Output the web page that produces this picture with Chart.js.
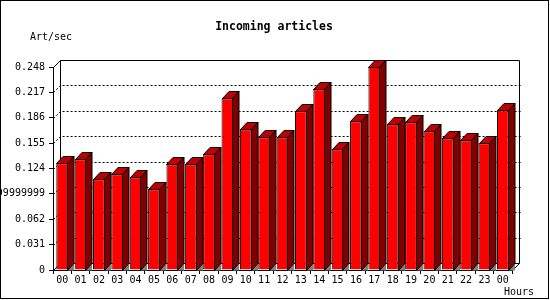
<!DOCTYPE html>
<html><head><meta charset="utf-8">
<script src="https://cdn.jsdelivr.net/npm/chart.js@4.4.1/dist/chart.umd.min.js"></script>
<style>html,body{margin:0;padding:0;background:#fff}#wrap{width:550px;height:300px;position:relative}</style>
</head><body><div id="wrap"><canvas id="c" width="550" height="300"></canvas></div>
<script>
const hours = ['00','01','02','03','04','05','06','07','08','09','10','11','12','13','14','15','16','17','18','19','20','21','22','23','00'];
const artPerSec = [0.1304,0.1352,0.1108,0.1169,0.1133,0.0986,0.1291,0.1291,0.1414,0.2098,0.1719,0.1621,0.1621,0.1939,0.2208,0.1475,0.1817,0.2480,0.1780,0.1805,0.1695,0.1609,0.1585,0.1548,0.1951];
const yTicks = [0,0.031,0.062,0.093,0.124,0.155,0.186,0.217,0.248];
const yTickLabels = ['0','0.031','0.062','0.09299999999999999','0.124','0.155','0.186','0.217','0.248'];
const titleText = 'Incoming articles';
const yUnit = 'Art/sec';
const xUnit = 'Hours';

const MONO = '"DejaVu Sans Mono", "Liberation Mono", monospace';
const D = 7;   // wall depth
const BD = 6.5; // bar depth

const threeD = {
  id: 'threeD',
  beforeDatasetsDraw(chart) {
    const {ctx, chartArea: a, scales: {y}} = chart;
    const L = Math.round(a.left), R = Math.round(a.right), T = Math.round(a.top), B = Math.round(a.bottom);
    ctx.save();
    ctx.strokeStyle = '#000'; ctx.lineWidth = 1;
    // dotted grid lines on the side and back wall
    ctx.setLineDash([2,2]);
    yTicks.forEach((v, i) => {
      if (i === 0 || i === yTicks.length - 1) return;
      const py = Math.round(y.getPixelForValue(v)) + 0.5;
      ctx.beginPath();
      ctx.moveTo(L + 0.5, py);
      ctx.lineTo(L + D + 0.5, py - D);
      ctx.lineTo(R + D + 2.5, py - D);
      ctx.stroke();
    });
    ctx.setLineDash([]);
    // back wall outline
    ctx.beginPath();
    ctx.moveTo(L + 0.5, T + 0.5); ctx.lineTo(L + D + 0.5, T - D + 0.5);
    ctx.lineTo(R + D + 0.5, T - D + 0.5); ctx.lineTo(R + D + 0.5, B - D + 0.5);
    ctx.lineTo(R + 0.5, B + 0.5);
    ctx.moveTo(L + D + 0.5, T - D + 0.5); ctx.lineTo(L + D + 0.5, B - D + 0.5);
    ctx.lineTo(R + D + 0.5, B - D + 0.5);
    ctx.moveTo(L + 0.5, B + 0.5); ctx.lineTo(L + D + 0.5, B - D + 0.5);
    ctx.stroke();
    ctx.restore();
  },
  afterDatasetsDraw(chart) {
    const {ctx} = chart;
    const meta = chart.getDatasetMeta(0);
    ctx.save();
    ctx.strokeStyle = '#000'; ctx.lineWidth = 1;
    meta.data.forEach(bar => {
      const {x, y, base, width} = bar.getProps(['x','y','base','width'], true);
      const l = Math.round(x - width / 2) + 0.5;
      const r = Math.round(x + width / 2) - 0.5;
      const t = Math.round(y) + 0.5;
      const b = Math.round(base) - 0.5;
      // floor shadow
      ctx.fillStyle = '#808080';
      ctx.beginPath();
      ctx.moveTo(r, b + 1); ctx.lineTo(r + BD, b + 1 - BD); ctx.lineTo(r + BD, b + 1); ctx.closePath();
      ctx.fill();
      // top face
      ctx.fillStyle = '#c00000';
      ctx.beginPath();
      ctx.moveTo(l, t); ctx.lineTo(l + BD, t - D); ctx.lineTo(r + BD, t - D); ctx.lineTo(r, t); ctx.closePath();
      ctx.fill(); ctx.stroke();
      // side face
      ctx.fillStyle = '#800000';
      ctx.beginPath();
      ctx.moveTo(r, t); ctx.lineTo(r + BD, t - D); ctx.lineTo(r + BD, b + 1 - D); ctx.lineTo(r, b + 1); ctx.closePath();
      ctx.fill(); ctx.stroke();
    });
    ctx.restore();
  },
  afterDraw(chart) {
    const {ctx} = chart;
    ctx.save();
    ctx.fillStyle = '#000';
    ctx.textBaseline = 'middle';
    ctx.font = 'bold 11.5px ' + MONO;
    ctx.textAlign = 'center';
    ctx.fillText(titleText, 274, 27);
    ctx.font = '10px ' + MONO;
    ctx.textAlign = 'left';
    ctx.fillText(yUnit, 30, 37);
    ctx.fillText(xUnit, 504, 292);
    ctx.strokeStyle = '#000'; ctx.lineWidth = 1;
    ctx.strokeRect(0.5, 0.5, 548, 298);
    ctx.restore();
  }
};

new Chart(document.getElementById('c'), {
  type: 'bar',
  data: {
    labels: hours,
    datasets: [{
      data: artPerSec,
      backgroundColor: '#ff0000',
      borderColor: '#000',
      borderWidth: 1,
      barPercentage: 0.64,
      categoryPercentage: 1
    }]
  },
  options: {
    responsive: false,
    animation: false,
    devicePixelRatio: 1,
    layout: { padding: { top: 67, right: 38, left: 0, bottom: 0 } },
    plugins: { legend: { display: false }, title: { display: false }, tooltip: { enabled: false } },
    scales: {
      x: {
        afterFit: s => { s.height = 30; },
        ticks: { font: { family: MONO, size: 10 }, color: '#000', padding: 0, autoSkip: false, maxRotation: 0, minRotation: 0 },
        grid: { drawOnChartArea: false, drawTicks: true, tickLength: 4, color: '#000', offset: true },
        border: { display: true, color: '#000' }
      },
      y: {
        min: 0, max: 0.248,
        afterBuildTicks: s => { s.ticks = yTicks.map(v => ({ value: v })); },
        afterFit: s => { s.width = 53; },
        ticks: { callback: (v, i) => yTickLabels[i], font: { family: MONO, size: 10 }, color: '#000', padding: 4, autoSkip: false },
        grid: { drawOnChartArea: false, drawTicks: true, tickLength: 4, color: '#000' },
        border: { display: true, color: '#000' }
      }
    }
  },
  plugins: [threeD]
});
</script>
</body></html>
